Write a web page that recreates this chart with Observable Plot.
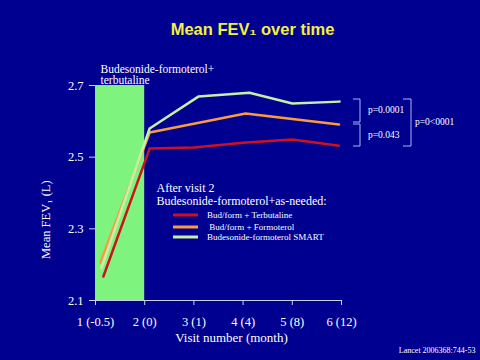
<!DOCTYPE html>
<html><head><meta charset="utf-8">
<script src="https://cdn.jsdelivr.net/npm/d3@7"></script>
<script src="https://cdn.jsdelivr.net/npm/@observablehq/plot@0.6"></script>
<style>html,body{margin:0;padding:0;background:#000090;}</style>
</head><body><div id="chart"></div>
<script>
const tickPos = [1, 2, 3, 4, 5, 6];
const visitLabels = ["1 (-0.5)", "2 (0)", "3 (1)", "4 (4)", "5 (8)", "6 (12)"];
const yTicks = [2.1, 2.3, 2.5, 2.7];
const seriesNames = ["Bud/form + Terbutaline", " Bud/form + Formoterol", "Budesonide-formoterol SMART"];
const seriesColors = ["#d0101c", "#ff9a3c", "#c6f0a6"];
const redX = [1.16, 2.1, 3, 4, 5, 5.95];
const redY = [2.167, 2.524, 2.527, 2.54, 2.549, 2.532];
const orangeX = [1.1, 2.1, 4.05, 5.95];
const orangeY = [2.206, 2.569, 2.622, 2.591];
const greenX = [1.12, 2.1, 3.09, 4.13, 5.0, 5.96];
const greenY = [2.19, 2.58, 2.669, 2.68, 2.65, 2.655];
const pLabels = ["p=0.0001", "p=0.043", "p=0<0001"];

const rows = [];
[[redX, redY], [orangeX, orangeY], [greenX, greenY]].forEach(([xs, ys], s) =>
  xs.forEach((x, i) => rows.push({series: seriesNames[s], x, y: ys[i]})));

const serif = "'Liberation Serif', 'Times New Roman', serif";
const plot = Plot.plot({
  width: 480, height: 360,
  marginLeft: 95, marginRight: 139, marginTop: 85, marginBottom: 60,
  style: {background: "#000090", color: "white", fontFamily: serif},
  x: {domain: [1, 6]},
  y: {domain: [2.1, 2.7]},
  color: {domain: seriesNames, range: seriesColors},
  marks: [
    Plot.rectY([{x1: 1, x2: 2}], {x1: "x1", x2: "x2", y1: 2.1, y2: 2.7, fill: "#7ef47e"}),
    Plot.ruleY([2.1], {stroke: "#c8d0f0", strokeWidth: 1}),
    Plot.axisX({ticks: tickPos, tickFormat: (d, i) => visitLabels[i], tickSize: 5, tickPadding: 12, fontSize: 12.5, label: null, stroke: "#c8d0f0"}),
    Plot.axisY({ticks: yTicks, tickFormat: ".1f", tickSize: 6, tickPadding: 6, fontSize: 12.5, label: null, stroke: "#c8d0f0"}),
    Plot.line(rows, {x: "x", y: "y", z: "series", stroke: "series", strokeWidth: 2.5}),
    Plot.text(["Mean FEV₁ over time"], {frameAnchor: "top", dx: 34, dy: -62, fill: "#f4f040", fontWeight: "bold", fontSize: 16.5, fontFamily: "'Liberation Sans', Arial, sans-serif"}),
    Plot.text(["Visit number (month)"], {frameAnchor: "bottom", dx: 13, dy: 41, fontSize: 13, fill: "white"}),
    Plot.text(["Mean FEV₁ (L)"], {frameAnchor: "left", rotate: -90, dx: -50, dy: 66, fontSize: 12.5, fill: "white"}),
    Plot.text(["Budesonide-formoterol+"], {frameAnchor: "top-left", textAnchor: "start", dx: 5, dy: -21, fontSize: 11.5, fill: "white"}),
    Plot.text(["terbutaline"], {frameAnchor: "top-left", textAnchor: "start", dx: 5, dy: -10, fontSize: 11.5, fill: "white"}),
    Plot.text(["After visit 2"], {frameAnchor: "top-left", textAnchor: "start", dx: 61, dy: 98, fontSize: 12, fill: "white"}),
    Plot.text(["Budesonide-formoterol+as-needed:"], {frameAnchor: "top-left", textAnchor: "start", dx: 61, dy: 110.5, fontSize: 12, fill: "white"}),
    Plot.text(["Lancet 2006368:744-53"], {frameAnchor: "bottom-right", textAnchor: "end", dx: 134, dy: 52, fontSize: 8, fill: "white"})
  ]
});
document.getElementById("chart").appendChild(plot);

// annotations: legend and p-value brackets
const svg = d3.select(plot);
const g = svg.append("g").attr("text-anchor", "start");
const legY = [215, 227, 237];
seriesNames.forEach((name, i) => {
  g.append("line").attr("x1", 173).attr("x2", 198).attr("y1", legY[i]).attr("y2", legY[i])
    .attr("stroke", seriesColors[i]).attr("stroke-width", 3);
  g.append("text").attr("x", 207).attr("y", legY[i]).attr("dy", "0.35em").attr("text-anchor", "start")
    .attr("fill", "white").attr("font-size", 9).attr("font-family", serif)
    .style("white-space", "pre").text(name);
});
const bc = "#aab8ee";
const bracket = (x0, x1, ya, yb) => g.append("path")
  .attr("d", `M${x0},${ya}H${x1}V${yb}H${x0}`).attr("fill", "none").attr("stroke", bc).attr("stroke-width", 1);
bracket(353, 360, 99, 122);
bracket(353, 360, 124, 146);
bracket(403, 411, 99, 146);
const pPos = [[368, 110], [368, 135], [415, 122]];
pLabels.forEach((t, i) => g.append("text").attr("x", pPos[i][0]).attr("y", pPos[i][1]).attr("dy", "0.35em").attr("text-anchor", "start")
  .attr("fill", "white").attr("font-size", 9.5).attr("font-family", serif).text(t));
</script></body></html>
